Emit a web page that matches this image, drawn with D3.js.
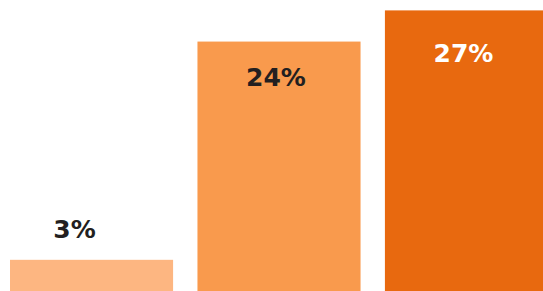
<!DOCTYPE html>
<html>
<head>
    <meta charset="utf-8">
    <title>Bars</title>
    <script src="https://d3js.org/d3.v7.min.js"></script>
    <style>
        body { margin: 0; background: #fff; overflow: hidden; }
        svg { display: block; }
        .label { font-family: "DejaVu Sans", sans-serif; font-weight: bold; font-size: 25px; }
    </style>
</head>
<body>
    <div id="chart"></div>
    <script>
        // values
        const categories = ["a", "b", "c"]
        const values = [3, 24, 27]
        const colors = ["#fdb681", "#f99a4d", "#e8690f"]
        const labelColors = ["#231f20", "#231f20", "#ffffff"]

        const w = 543
        const h = 291

        const svg = d3.select("#chart")
            .append("svg")
            .attr("width", w)
            .attr("height", h)

        const xScale = d3.scaleBand()
            .domain(categories)
            .range([10, 548])
            .paddingInner(0.13)
            .paddingOuter(0)

        const yScale = d3.scaleLinear()
            .domain([0, 28])
            .range([291, 0])

        const data = categories.map((c, i) => ({ cat: c, value: values[i], i: i }))

        svg.selectAll("rect")
            .data(data)
            .enter()
            .append("rect")
            .attr("x", d => xScale(d.cat))
            .attr("y", d => yScale(d.value))
            .attr("width", xScale.bandwidth())
            .attr("height", d => yScale(0) - yScale(d.value))
            .style("fill", d => colors[d.i])

        // small bar gets its label above, the tall ones inside
        svg.selectAll("text.label")
            .data(data)
            .enter()
            .append("text")
            .attr("class", "label")
            .attr("text-anchor", "middle")
            .attr("x", d => xScale(d.cat) + xScale.bandwidth() / 2 + (d.i === 0 ? -17 : d.i === 1 ? -3 : -3))
            .attr("y", d => yScale(d.value) + (d.value < 10 ? -22 : (d.i === 1 ? 44 : 52)))
            .style("fill", d => labelColors[d.i])
            .text(d => d.value + "%")
    </script>
</body>
</html>
